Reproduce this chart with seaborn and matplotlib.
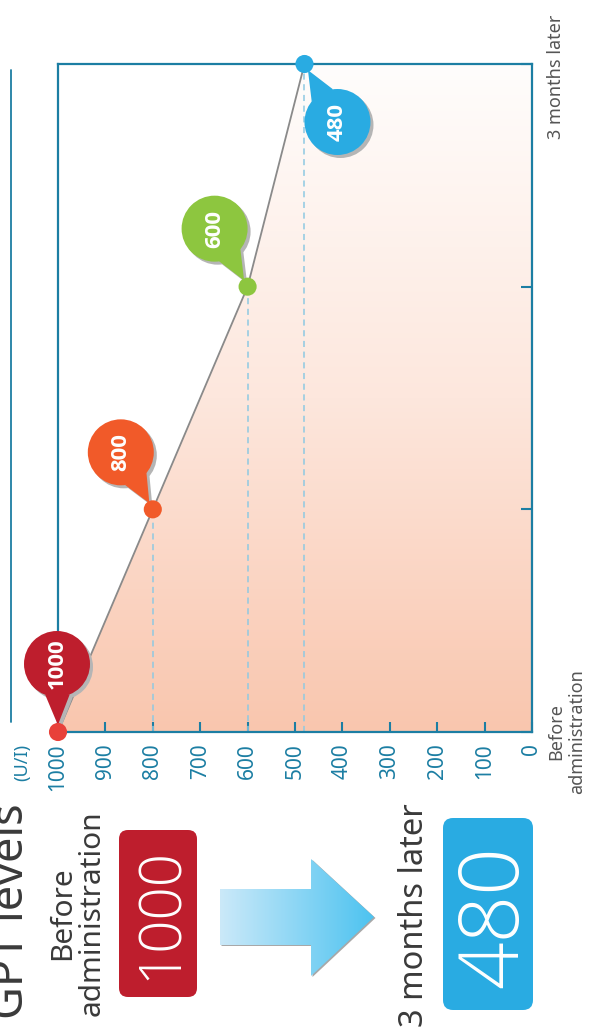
import numpy as np
import pandas as pd
import matplotlib
matplotlib.use("Agg")
import matplotlib.pyplot as plt
import seaborn as sns
from matplotlib import font_manager as fm
from matplotlib.patches import Circle, Polygon, FancyBboxPatch
from matplotlib.transforms import IdentityTransform, ScaledTranslation
from matplotlib.lines import Line2D
from matplotlib.colors import LinearSegmentedColormap

# ---------------- data ----------------
months = [0, 1, 2, 3]
gpt = [1000, 800, 600, 480]
time_labels = ["Before\nadministration", "", "", "3 months later"]
value_ticks = [0, 100, 200, 300, 400, 500, 600, 700, 800, 900, 1000]
unit_label = "(U/I)"
title_text = "GPT levels"
before_text = "Before\nadministration"
after_text = "3 months later"
before_value = "1000"
after_value = "480"

# ---------------- style ----------------
W, H = 589, 1033
TEAL = "#1c7ea3"
TXT = "#3a3a3a"
point_colors = ["#e8413a", "#f15a29", "#8dc63f", "#29abe2"]
pin_colors = ["#be1e2d", "#f15a29", "#8dc63f", "#29abe2"]
pin_offsets = [(-1, 68), (-32, 57), (-33, 58), (33, -58)]  # pixels, display coords

sns.set_theme(style="white")
fonts = fm.fontManager.ttflist
avail = {f.name for f in fonts}


def pick(*names):
    for n in names:
        if n in avail:
            return n
    return "DejaVu Sans"


def pick_weight(cands, test):
    for n in cands:
        if any(f.name == n and test(f.weight) for f in fonts):
            return n
    return None


def wnum(w):
    if isinstance(w, (int, float)):
        return w
    return {"thin": 100, "extralight": 200, "light": 300, "normal": 400, "regular": 400,
            "book": 400, "medium": 500, "semibold": 600, "bold": 700,
            "heavy": 800, "black": 900}.get(str(w).lower(), 400)


SANS = pick("Noto Sans", "Open Sans", "Lato", "DejaVu Sans")
LIGHT = pick_weight(["Noto Sans", "Open Sans", "Lato", "Roboto", "Inter"],
                    lambda w: wnum(w) <= 300) or SANS
BOLD = pick_weight(["Noto Sans", "Open Sans", "Roboto", "Lato", "Inter"],
                   lambda w: wnum(w) >= 700) or "DejaVu Sans"
NARROW = pick("Liberation Sans Narrow", LIGHT)
plt.rcParams["font.family"] = [SANS, "DejaVu Sans"]

fig = plt.figure(figsize=(W / 100, H / 100), dpi=100)
ax = fig.add_axes([58 / W, 1 - 732 / H, (532 - 58) / W, (732 - 64) / H])

df = pd.DataFrame({"month": months, "gpt": gpt, "pt": [str(v) for v in gpt]})

# gradient fill under the line
cmap = LinearSegmentedColormap.from_list("fillg", ["#f9c6ae", "#fde7dd", "#fffdfc"])
grad = np.linspace(0, 1, 256).reshape(-1, 1)
im = ax.imshow(grad, extent=[0, 1000, 0, 3], origin="lower", aspect="auto",
               cmap=cmap, zorder=0.5)
clip_poly = Polygon(list(zip(gpt, months)) + [(0, months[-1]), (0, months[0])],
                    closed=True, transform=ax.transData)
im.set_clip_path(clip_poly)

# dashed guides
for v, t in zip(gpt[1:], months[1:]):
    ax.plot([v, v], [months[0], t], ls=(0, (4, 3)), color="#8ec9e2", lw=1.1, zorder=1)

sns.lineplot(data=df, x="gpt", y="month", sort=False, estimator=None,
             color="#8a8a8a", lw=1.3, ax=ax, zorder=2)
sns.scatterplot(data=df, x="gpt", y="month", hue="pt",
                palette=dict(zip(df["pt"], point_colors)), s=170, linewidth=0,
                legend=False, ax=ax, zorder=8, clip_on=False)

ax.set_xlim(1000, 0)
ax.set_ylim(months[0], months[-1])
ax.set_xlabel("")
ax.set_ylabel("")
for sp in ax.spines.values():
    sp.set_color(TEAL)
    sp.set_linewidth(1.6)
    sp.set_visible(True)

ax.set_xticks(value_ticks)
ax.set_xticklabels([str(v) for v in value_ticks], rotation=90, color=TEAL, fontsize=15)
ax.tick_params(axis="x", direction="in", length=7, width=1.5, color=TEAL, pad=8,
               bottom=True)
ax.yaxis.tick_right()
ax.set_yticks(months)
ax.set_yticklabels(time_labels, rotation=90, va="center", ha="left",
                   multialignment="center", color="#555555", fontsize=13)
ax.tick_params(axis="y", direction="in", length=8, width=1.5, color=TEAL, pad=11,
               right=True, left=False)
labs = ax.get_yticklabels()
labs[-1].set_transform(labs[-1].get_transform() +
                       ScaledTranslation(0, -13 / 100, fig.dpi_scale_trans))

# callout pins
ident = IdentityTransform()
R = 33
for v, t, col, (dx, dy) in zip(gpt, months, pin_colors, pin_offsets):
    px, py = ax.transData.transform((v, t))
    cx, cy = px + dx, py + dy
    d = np.array([px - cx, py - cy])
    L = np.hypot(*d)
    ang = np.arctan2(d[1], d[0])
    b1 = (cx + R * np.cos(ang + 0.38), cy + R * np.sin(ang + 0.38))
    b2 = (cx + R * np.cos(ang - 0.38), cy + R * np.sin(ang - 0.38))
    tip = (cx + np.cos(ang) * (L - 7), cy + np.sin(ang) * (L - 7))
    for off, c, z in [((3, -3), "#b5b5b5", 5), ((0, 0), col, 6)]:
        tri = Polygon([(b1[0] + off[0], b1[1] + off[1]), (b2[0] + off[0], b2[1] + off[1]),
                       (tip[0] + off[0], tip[1] + off[1])], closed=True,
                      transform=ident, facecolor=c, edgecolor="none", zorder=z)
        circ = Circle((cx + off[0], cy + off[1]), R, transform=ident, facecolor=c,
                      edgecolor="none", zorder=z)
        for p in (tri, circ):
            p.set_clip_on(False)
            ax.add_artist(p)
    ax.text(cx, cy, str(v), transform=ident, rotation=90, ha="center", va="center",
            color="white", fontsize=16, fontweight="bold",
            family=[BOLD, "DejaVu Sans"], zorder=7)

# unit label
fig.text(22 / W, 1 - 744 / H, unit_label, rotation=90, ha="center", va="top",
         color=TEAL, fontsize=13)

# left border line
fig.add_artist(Line2D([11 / W, 11 / W], [1 - 70 / H, 1 - 722 / H], color=TEAL, lw=1.3))

# ---------------- bottom summary ----------------
def Y(y):
    return H - y


LF = [LIGHT, "DejaVu Sans"]
RF = [SANS, "DejaVu Sans"]
fig.text(23, Y(911), title_text, transform=ident, rotation=90, rotation_mode="anchor",
         ha="center", va="baseline", color=TXT, fontsize=32.5, family=RF)
fig.text(99, Y(913), before_text, transform=ident, rotation=90, rotation_mode="anchor",
         ha="center", va="baseline", multialignment="center", color=TXT,
         fontsize=21.5, linespacing=1.05, family=RF)
fig.text(423, Y(915), after_text, transform=ident, rotation=90, rotation_mode="anchor",
         ha="center", va="baseline", color=TXT, fontsize=23.5, family=RF)

box1 = FancyBboxPatch((119, Y(997)), 78, 167, boxstyle="round,pad=0,rounding_size=9",
                      transform=ident, facecolor="#be1e2d", edgecolor="none")
box2 = FancyBboxPatch((443, Y(1010)), 90, 192, boxstyle="round,pad=0,rounding_size=10",
                      transform=ident, facecolor="#29abe2", edgecolor="none")
fig.add_artist(box1)
fig.add_artist(box2)
if NARROW == "Liberation Sans Narrow":
    fs1, base1 = 54, 184
else:
    fs1, base1 = 42, 177
fig.text(base1, Y(913), before_value, transform=ident, rotation=90, rotation_mode="anchor",
         ha="center", va="baseline", color="white", fontsize=fs1, fontweight="light",
         family=[NARROW, "DejaVu Sans"])
fig.text(517, Y(917), after_value, transform=ident, rotation=90, rotation_mode="anchor",
         ha="center", va="baseline", color="white", fontsize=60, fontweight="light",
         family=LF)

# arrow
aax = fig.add_axes([214 / W, 1 - 982 / H, 168 / W, 130 / H])
aax.set_xlim(214, 382)
aax.set_ylim(982, 852)
aax.axis("off")
arrow_pts = [(220, 889), (311, 889), (311, 859), (374, 917), (311, 976), (311, 945), (220, 945)]
shadow = Polygon([(p[0] + 1.5, p[1] + 1) for p in arrow_pts], closed=True,
                 facecolor="#a8a8a8", edgecolor="none", zorder=1)
aax.add_patch(shadow)
acmap = LinearSegmentedColormap.from_list("arr", ["#cbe9f9", "#4dc3f0"])
aim = aax.imshow(np.linspace(0, 1, 256).reshape(1, -1), extent=(220, 374, 976, 859),
                 aspect="auto", cmap=acmap, zorder=2)
aim.set_clip_path(Polygon(arrow_pts, closed=True, transform=aax.transData))
aax.set_xlim(214, 382)
aax.set_ylim(982, 852)

fig.savefig("out.png", dpi=100)
